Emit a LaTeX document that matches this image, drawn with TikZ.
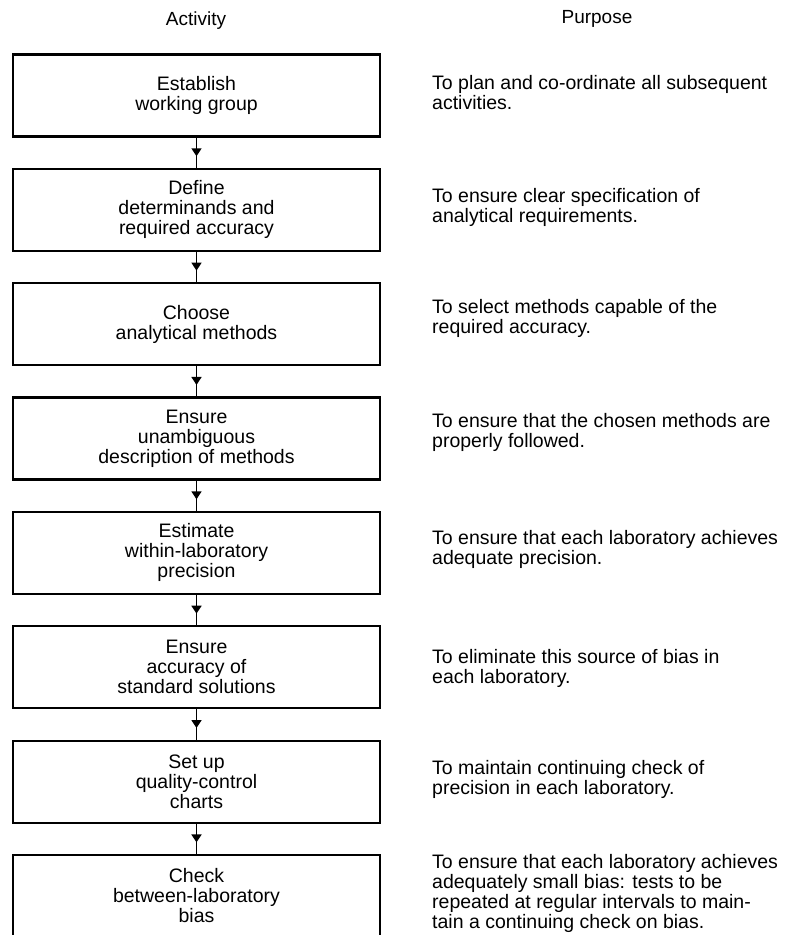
\documentclass[tikz,border=0pt]{standalone}
\usepackage{fontspec}
\setmainfont{Liberation Sans}
\usetikzlibrary{arrows.meta,decorations.markings}

\tikzset{
  stage/.style={draw, line width=2.2pt, minimum width=367pt, minimum height=82pt,
    align=center, inner sep=0pt, font=\fontsize{19.5}{20}\selectfont},
  purpose/.style={anchor=west, align=left, inner sep=0pt, font=\fontsize{19.5}{20}\selectfont},
  heading/.style={font=\fontsize{19}{20}\selectfont},
  midarrow/.style={line width=1.6pt, postaction={decorate},
    decoration={markings, mark=at position 0.62 with {\arrow{Triangle[length=8pt,width=10pt]}}}}
}

\begin{document}
\begin{tikzpicture}[x=1pt,y=-1pt]
    \useasboundingbox (0,0) rectangle (787,935);

    % Headings
    \node[heading] (hact) at (196,21) {Activity};
    \node[heading] (hpur) at (597,19) {Purpose};

    % Activity boxes
    \node[stage] (b1) at (196.5,95.5)  {Establish\\working group};
    \node[stage] (b2) at (196.5,209.8) {Define\\determinands and\\required accuracy};
    \node[stage] (b3) at (196.5,324.2) {Choose\\analytical methods};
    \node[stage] (b4) at (196.5,438.5) {Ensure\\unambiguous\\description of methods};
    \node[stage] (b5) at (196.5,552.9) {Estimate\\within-laboratory\\precision};
    \node[stage] (b6) at (196.5,667.2) {Ensure\\accuracy of\\standard solutions};
    \node[stage] (b7) at (196.5,781.6) {Set up\\quality-control\\charts};
    \node[stage] (b8) at (196.5,896)   {Check\\between-laboratory\\bias};

    % Purposes
    \node[purpose] (p1) at (432,93)  {To plan and co-ordinate all subsequent\\activities.};
    \node[purpose] (p2) at (432,207) {To ensure clear specification of\\analytical requirements.};
    \node[purpose] (p3) at (432,318) {To select methods capable of the\\required accuracy.};
    \node[purpose] (p4) at (432,432) {To ensure that the chosen methods are\\properly followed.};
    \node[purpose] (p5) at (432,549) {To ensure that each laboratory achieves\\adequate precision.};
    \node[purpose] (p6) at (432,668) {To eliminate this source of bias in\\each laboratory.};
    \node[purpose] (p7) at (432,779) {To maintain continuing check of\\precision in each laboratory.};
    \node[purpose] (p8) at (432,893) {To ensure that each laboratory achieves\\adequately small bias: tests to be\\repeated at regular intervals to main-\\tain a continuing check on bias.};

    % Connectors
    \foreach \a/\b in {b1/b2, b2/b3, b3/b4, b4/b5, b5/b6, b6/b7, b7/b8}
        \draw[midarrow] (\a) -- (\b);

\end{tikzpicture}
\end{document}
